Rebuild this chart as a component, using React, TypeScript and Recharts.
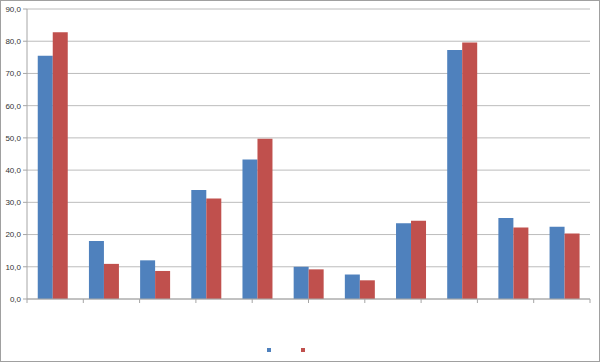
import { BarChart, Bar, XAxis, YAxis, CartesianGrid, Legend } from "recharts";

const categories = ["1", "2", "3", "4", "5", "6", "7", "8", "9", "10", "11"];
const serie1 = [75.5, 18.0, 12.0, 33.8, 43.3, 10.0, 7.6, 23.5, 77.3, 25.1, 22.4];
const serie2 = [82.8, 10.9, 8.7, 31.2, 49.7, 9.2, 5.8, 24.3, 79.6, 22.2, 20.3];
const yTicks = [0, 10, 20, 30, 40, 50, 60, 70, 80, 90];
const edgeTicks = [0, 1, 2, 3, 4, 5, 6, 7, 8, 9, 10, 11];

const data = categories.map((name, i) => ({
  name,
  s1: serie1[i],
  s2: serie2[i],
}));

const axisColor = "#a6a6a6";

const renderLegend = (props: any) => {
  const { payload } = props;
  return (
    <div style={{ display: "flex", justifyContent: "center", height: 4, paddingLeft: 12 }}>
      {payload.map((entry: any) => (
        <div key={entry.value} style={{ width: 34, height: 4 }}>
          <div style={{ width: 4, height: 4, background: entry.color }} />
        </div>
      ))}
    </div>
  );
};

const App: React.FC = () => {
  return (
    <div style={{ position: "absolute", left: 0, top: 0, width: 600, height: 362 }}>
      <BarChart
        width={600}
        height={362}
        data={data}
        margin={{ top: 9, right: 10, bottom: 10, left: 0 }}
        barCategoryGap="21%"
        barGap={0}
      >
        <CartesianGrid vertical={false} stroke="#bcbcbc" />
        <XAxis dataKey="name" hide height={0} />
        <XAxis
          xAxisId="edges"
          type="number"
          domain={[0, 11]}
          ticks={edgeTicks}
          tickFormatter={() => ""}
          tickSize={4}
          height={49}
          axisLine={{ stroke: axisColor }}
          tickLine={{ stroke: axisColor }}
        />
        <YAxis
          domain={[0, 90]}
          ticks={yTicks}
          width={27}
          tickSize={4}
          tickMargin={2}
          interval={0}
          tickFormatter={(v: number) => v.toFixed(1).replace(".", ",")}
          tick={{ fontSize: 8, fill: "#333", fontFamily: "Liberation Sans, Arial, sans-serif" }}
          axisLine={{ stroke: axisColor }}
          tickLine={{ stroke: axisColor }}
        />
        <Legend verticalAlign="bottom" content={renderLegend} />
        <Bar dataKey="s1" name="Série 1" fill="#4F81BD" isAnimationActive={false} />
        <Bar dataKey="s2" name="Série 2" fill="#C0504D" isAnimationActive={false} />
      </BarChart>
      <div
        style={{
          position: "absolute",
          inset: 0,
          border: "1px solid #a0a0a0",
          boxSizing: "border-box",
          pointerEvents: "none",
        }}
      />
    </div>
  );
};

export default App;
